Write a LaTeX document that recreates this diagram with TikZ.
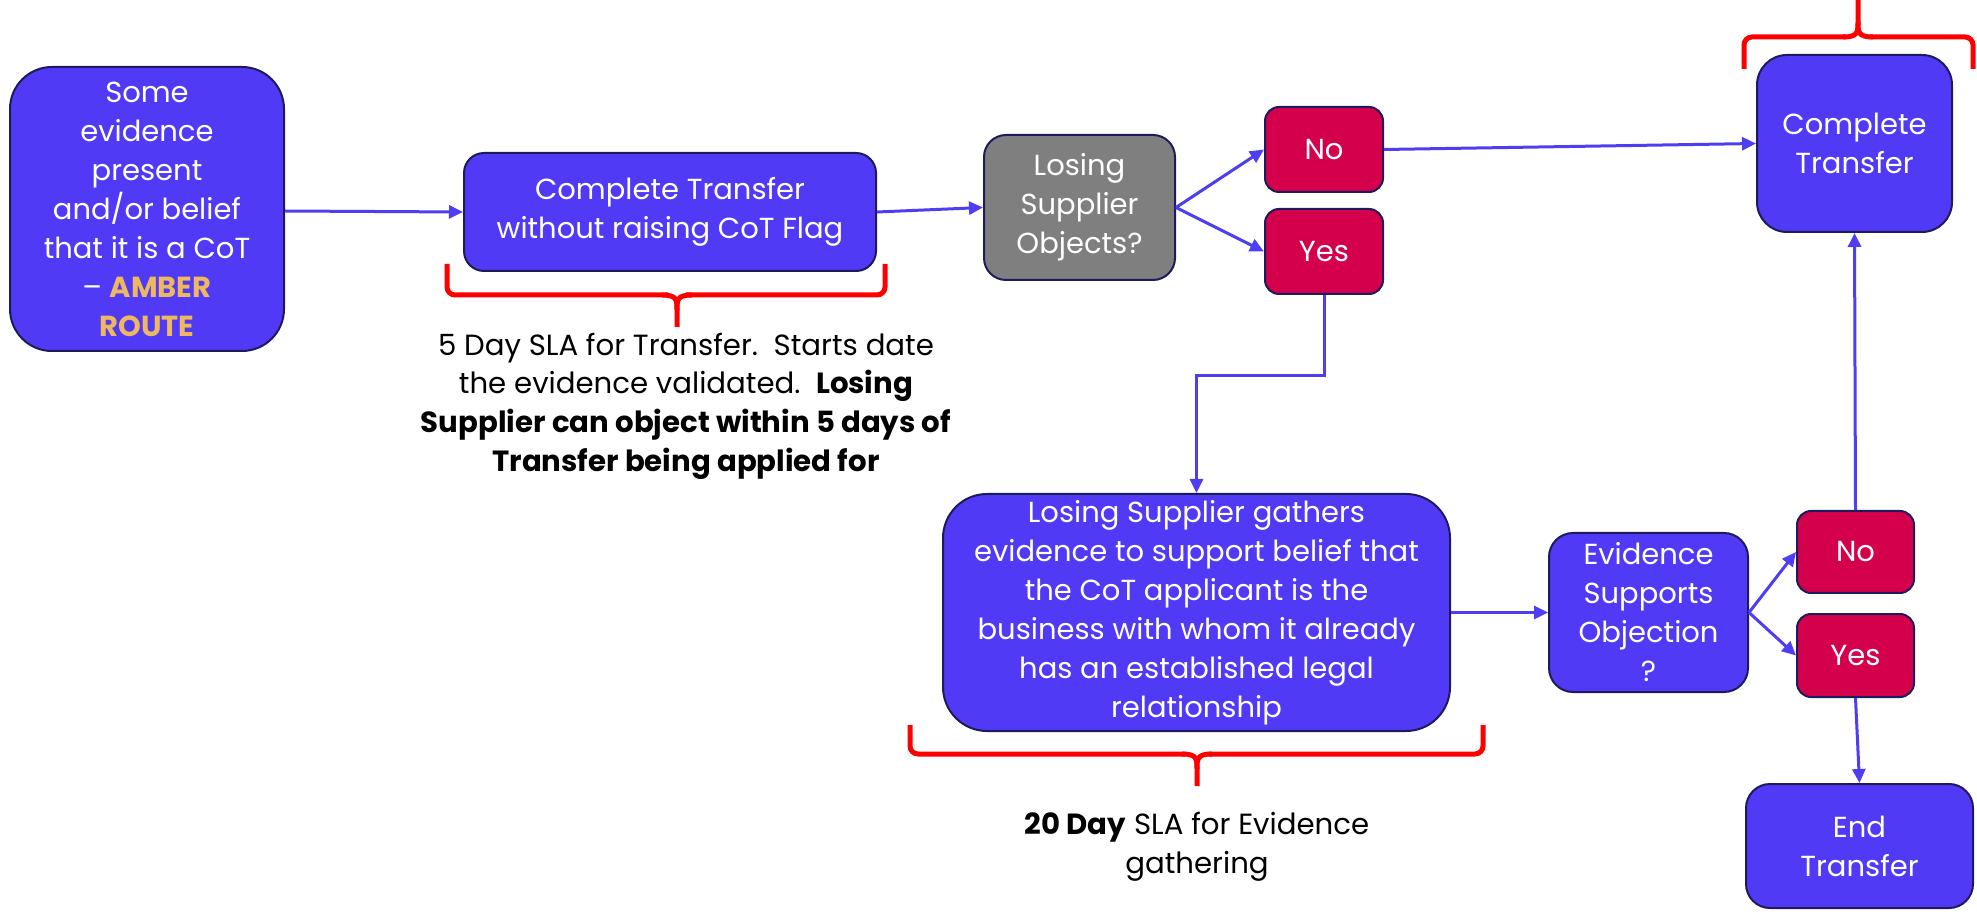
\documentclass[tikz,border=0pt]{standalone}
\usepackage{fontspec}
\setmainfont{Poppins}
\usetikzlibrary{arrows.meta}
\definecolor{boxblue}{HTML}{503AF5}
\definecolor{boxred}{HTML}{D5004B}
\definecolor{boxgrey}{HTML}{7F7F7F}
\definecolor{edgenavy}{HTML}{1E1B5C}
\definecolor{arrowblue}{HTML}{4F3DF2}
\definecolor{amber}{HTML}{EDB85F}
\definecolor{bracered}{HTML}{FF0000}
\tikzset{
  basebox/.style={draw=edgenavy, line width=1pt, text=white, align=center, inner sep=0pt,
    font=\fontsize{14.5}{19.5}\selectfont},
  bluebox/.style={basebox, fill=boxblue},
  redbox/.style={basebox, fill=boxred, rounded corners=7pt},
  greybox/.style={basebox, fill=boxgrey},
  flow/.style={draw=arrowblue, line width=1.5pt, -{Triangle[length=7pt,width=6.5pt]}},
  bracket/.style={draw=bracered, line width=2.5pt, rounded corners=4pt},
  bracetip/.style={draw=bracered, line width=2.5pt},
  caption/.style={align=center, text=black, inner sep=0pt, font=\fontsize{14.6}{19.3}\selectfont}
}
\begin{document}
\begin{tikzpicture}[x=0.5pt,y=-0.5pt]
\useasboundingbox (0,0) rectangle (1977,914);
% nodes
\node[bluebox, rounded corners=21pt, minimum width=137pt, minimum height=142pt] (start) at (147,209)
  {Some\\evidence\\present\\and/or belief\\that it is a CoT\\– \textbf{\color{amber}AMBER}\\\textbf{\color{amber}ROUTE}};
\node[bluebox, rounded corners=10pt, minimum width=206pt, minimum height=59pt] (ctnoflag) at (670,212)
  {Complete Transfer\\without raising CoT Flag};
\node[greybox, rounded corners=11pt, minimum width=95.5pt, minimum height=72.5pt] (objects) at (1079.5,207.5)
  {Losing\\Supplier\\Objects?};
\node[redbox, minimum width=59pt, minimum height=42.5pt] (noA) at (1324,149.5) {No};
\node[redbox, minimum width=59pt, minimum height=42.5pt] (yesA) at (1324,251.5) {Yes};
\node[bluebox, rounded corners=15pt, minimum width=97.5pt, minimum height=88.5pt] (complete) at (1854.5,143.5)
  {Complete\\Transfer};
\node[bluebox, rounded corners=22pt, minimum width=253.5pt, minimum height=118.5pt] (gather) at (1196.5,612.5)
  {Losing Supplier gathers\\evidence to support belief that\\the CoT applicant is the\\business with whom it already\\has an established legal\\relationship};
\node[bluebox, rounded corners=12pt, minimum width=99.5pt, minimum height=79.5pt] (supports) at (1648.5,612.5)
  {Evidence\\Supports\\Objection\\?};
\node[redbox, minimum width=58.5pt, minimum height=41pt] (noB) at (1855.5,552) {No};
\node[redbox, minimum width=58.5pt, minimum height=41.5pt] (yesB) at (1855.5,655.5) {Yes};
\node[bluebox, rounded corners=12pt, minimum width=113.5pt, minimum height=62pt] (endt) at (1859.5,846)
  {End\\Transfer};
% captions
\node[caption] (capA) at (686,406)
  {5 Day SLA for Transfer.\ \ Starts date\\the evidence validated.\ \ \textbf{Losing}\\\textbf{Supplier can object within 5 days of}\\\textbf{Transfer being applied for}};
\node[caption] (capB) at (1197,847)
  {\textbf{20 Day} SLA for Evidence\\gathering};
% connectors
\draw[flow] (start.east |- 0,211) -- (ctnoflag.west);
\draw[flow] (ctnoflag.east) -- (objects.west);
\draw[flow] (objects.east) -- (noA.west);
\draw[flow] (objects.east) -- (yesA.west);
\draw[flow] (noA.east) -- (complete.west);
\coordinate (yesAturn) at (1324,376);
\draw[flow] (yesA.south) -- (yesAturn) -| (gather.north);
\draw[flow] (gather.east) -- (supports.west);
\draw[flow] (supports.east) -- (noB.west);
\draw[flow] (supports.east) -- (yesB.west);
\draw[flow] (noB.north) -- (complete.south);
\draw[flow] (yesB.south) -- (endt.north);
% brackets
\draw[bracket] (447,264) -- (447,295) -- (668,295);
\draw[bracket] (885,264) -- (885,295) -- (686,295);
\draw[bracetip] (662,295) .. controls (677,295) and (677,300) .. (677,310) -- (677,327);
\draw[bracetip] (692,295) .. controls (677,295) and (677,300) .. (677,310);
\draw[bracket] (910,725) -- (910,754) -- (1185,754);
\draw[bracket] (1483,725) -- (1483,754) -- (1209,754);
\draw[bracetip] (1182,754) .. controls (1197,754) and (1197,759) .. (1197,769) -- (1197,786);
\draw[bracetip] (1212,754) .. controls (1197,754) and (1197,759) .. (1197,769);
\draw[bracket] (1744,69) -- (1744,37) -- (1846,37);
\draw[bracket] (1973,69) -- (1973,37) -- (1870,37);
\draw[bracetip] (1843,37) .. controls (1858,37) and (1858,32) .. (1858,22) -- (1858,0);
\draw[bracetip] (1873,37) .. controls (1858,37) and (1858,32) .. (1858,22);
\end{tikzpicture}
\end{document}
